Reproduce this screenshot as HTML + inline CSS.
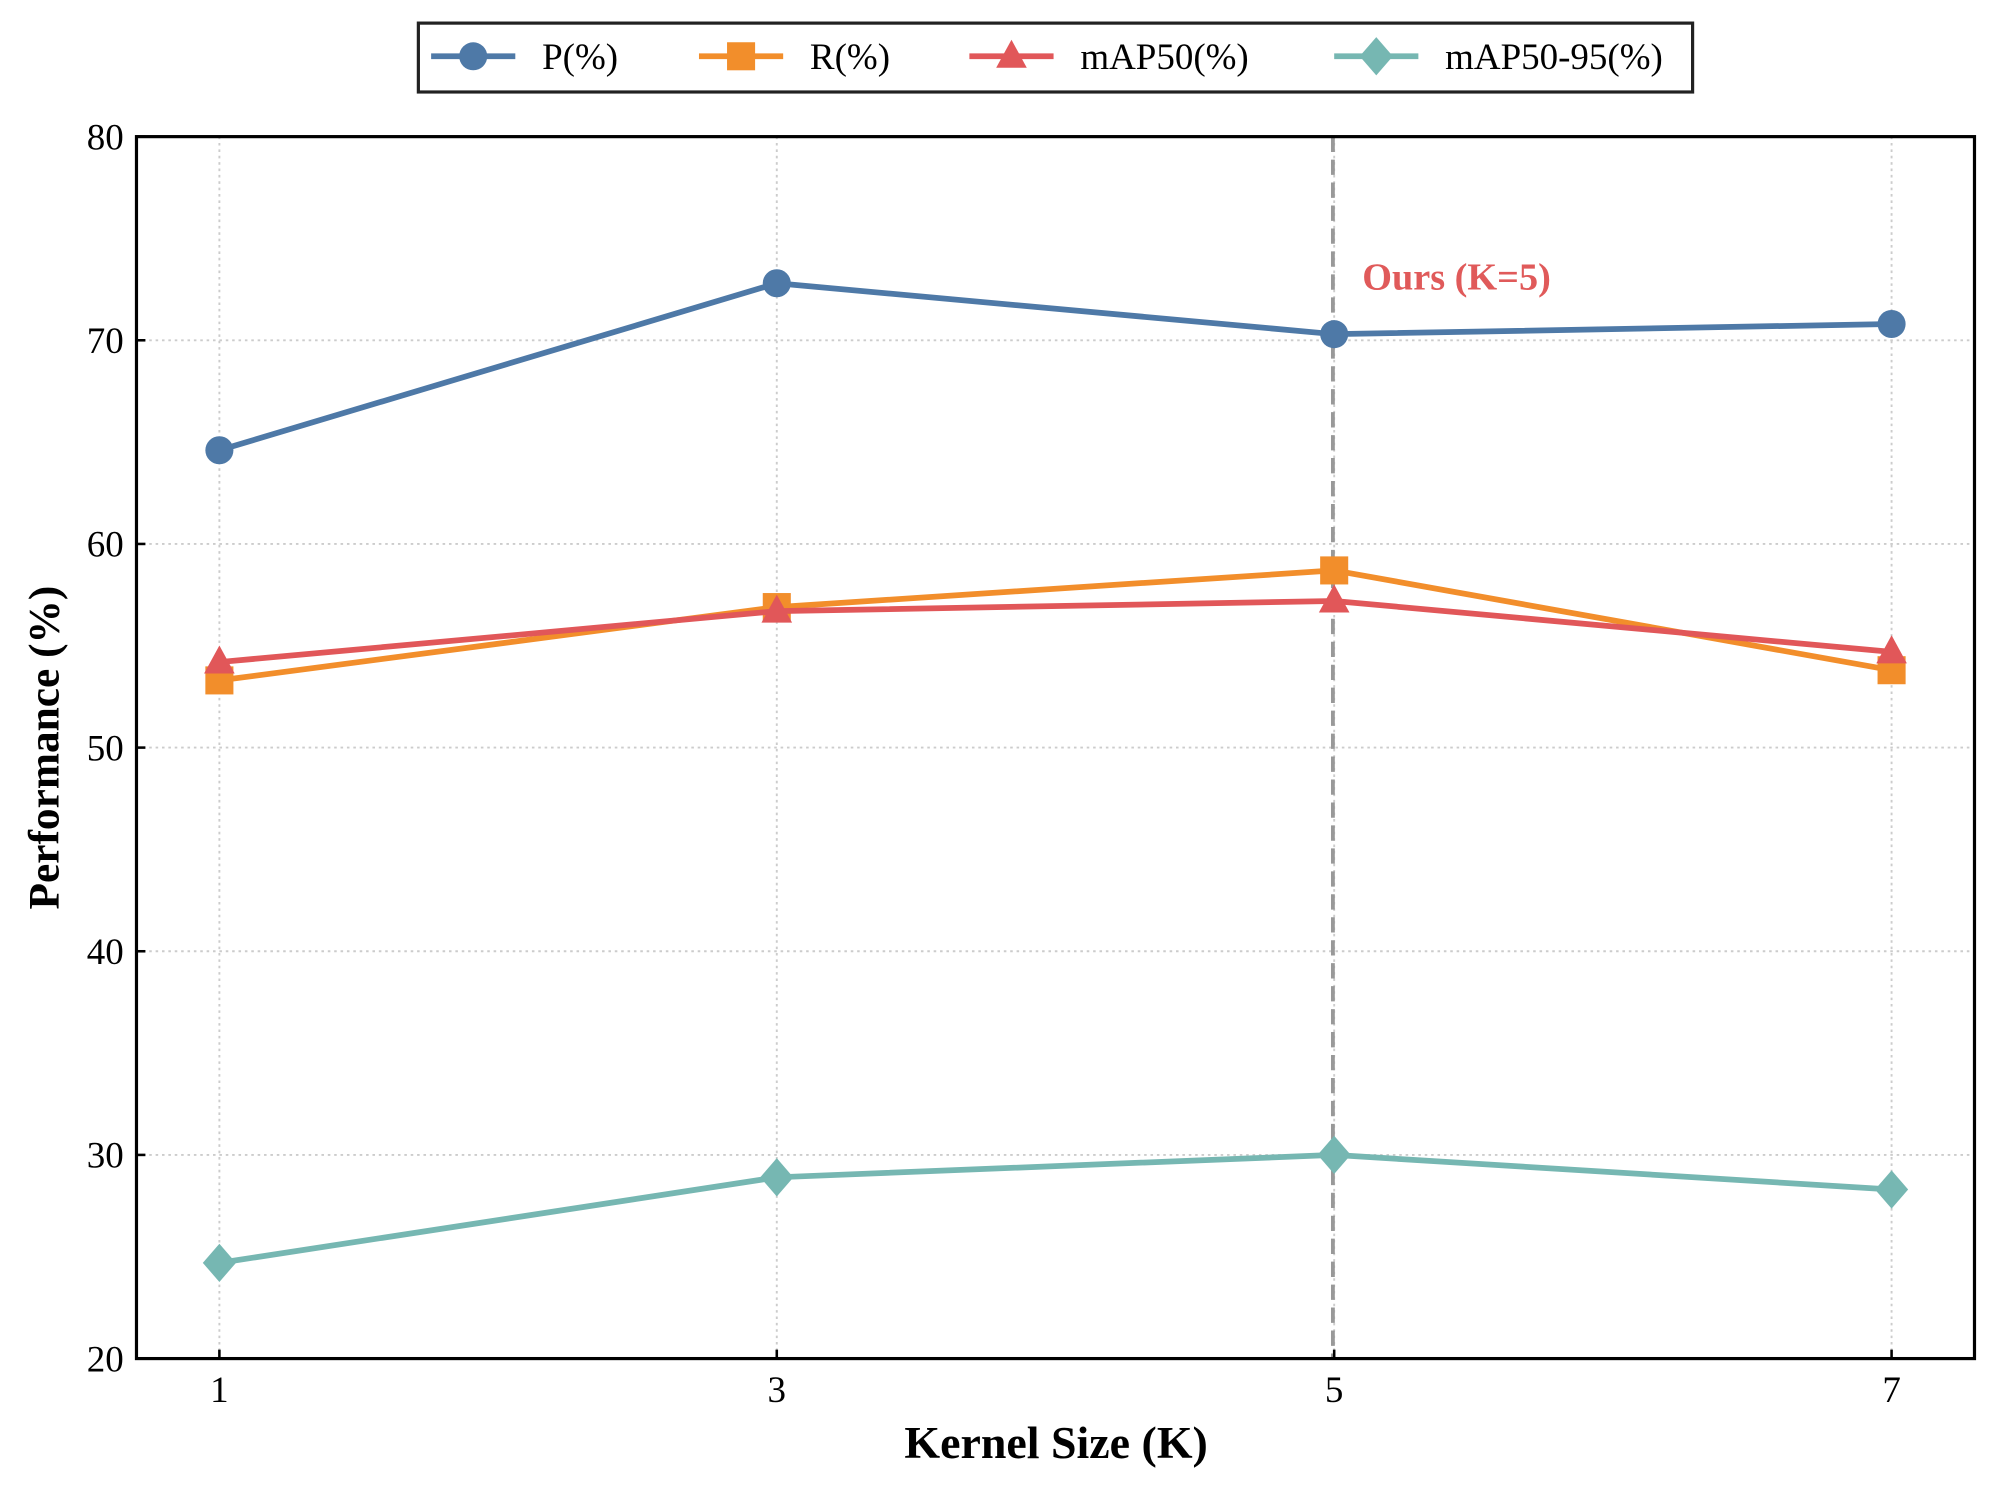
<!DOCTYPE html>
<html><head><meta charset="utf-8"><style>
html,body{margin:0;padding:0;background:#fff;}
svg{display:block;font-family:"Liberation Serif",serif;}
</style></head><body>
<svg id="chart" width="2000" height="1485" viewBox="0 0 1568 1164" xmlns="http://www.w3.org/2000/svg">
<g id="grid"></g>
<line x1="1045" y1="107" x2="1045" y2="1065" stroke="#999" stroke-width="3" stroke-dasharray="12,6"/>
<text x="1068" y="227" font-size="30" font-weight="bold" fill="#e05a5a">Ours (K=5)</text>
<g id="series"></g>
<rect x="107" y="107" width="1441" height="958" fill="none" stroke="#000" stroke-width="2.5"/>
<g id="ticks"></g>
<text x="828" y="1143" text-anchor="middle" font-size="36" font-weight="bold">Kernel Size (K)</text>
<text transform="translate(46,586) rotate(-90)" text-anchor="middle" font-size="34" font-weight="bold">Performance (%)</text>
<g>
<rect x="328" y="18" width="999" height="54" fill="#fff" stroke="#222" stroke-width="2.5"/>
<g id="legend"></g>
</g>
</svg>
<script>
const categories = [1, 3, 5, 7];
const seriesP = [64.6, 72.8, 70.3, 70.8];
const seriesR = [53.3, 56.9, 58.7, 53.8];
const seriesMAP50 = [54.2, 56.7, 57.2, 54.7];
const seriesMAP5095 = [24.7, 28.9, 30.0, 28.3];
const yTicks = [20, 30, 40, 50, 60, 70, 80];
const seriesNames = ["P(%)", "R(%)", "mAP50(%)", "mAP50-95(%)"];

const NS = "http://www.w3.org/2000/svg";
const L = 107, R = 1548, T = 107, B = 1065;
const xS = v => 172 + (v - 1) / 6 * (1483 - 172);
const yS = v => B - (v - 20) / 60 * (B - T);
function mk(tag, attrs, parent) { const e = document.createElementNS(NS, tag); for (const k in attrs) e.setAttribute(k, attrs[k]); parent.appendChild(e); return e; }
const grid = document.getElementById('grid'), ticks = document.getElementById('ticks'), ser = document.getElementById('series'), leg = document.getElementById('legend');

yTicks.forEach(t => {
  const y = yS(t);
  if (t > 20 && t < 80) { const g = mk('line', {x1: L, x2: R, y1: y, y2: y, stroke: '#ccc', 'stroke-width': 1.5, 'stroke-dasharray': '2,3'}, grid);
    
     }
  const tk = mk('line', {x1: L, x2: L + 7, y1: y, y2: y, stroke: '#000', 'stroke-width': 2}, ticks);
  
  
  const tx = mk('text', {x: L - 10, y: y + 10, 'text-anchor': 'end', 'font-size': 29}, ticks);
  tx.textContent = t;
  
  
});
categories.forEach(c => {
  const x = xS(c);
  const g = mk('line', {x1: x, x2: x, y1: T, y2: B, stroke: '#ccc', 'stroke-width': 1.5, 'stroke-dasharray': '2,3'}, grid);
  
  
  const tk = mk('line', {x1: x, x2: x, y1: B, y2: B - 7, stroke: '#000', 'stroke-width': 2}, ticks);
  
  
  const tx = mk('text', {x: x, y: B + 34, 'text-anchor': 'middle', 'font-size': 29}, ticks);
  tx.textContent = c;
  
  
});

function marker(kind, x, y, color, parent) {
  let e;
  if (kind === 'circle') e = mk('circle', {cx: x, cy: y, r: 11, fill: color}, parent);
  else if (kind === 'square') e = mk('rect', {x: x - 11, y: y - 11, width: 22, height: 22, fill: color}, parent);
  else if (kind === 'triangle') e = mk('polygon', {points: `${x},${y-13} ${x+12},${y+9} ${x-12},${y+9}`, fill: color}, parent);
  else e = mk('polygon', {points: `${x},${y-15} ${x+13},${y} ${x},${y+15} ${x-13},${y}`, fill: color}, parent);
  return e;
}
const defs = [
  {vals: seriesP, color: '#4e79a7', m: 'circle', name: 'p'},
  {vals: seriesR, color: '#f28e2b', m: 'square', name: 'r'},
  {vals: seriesMAP50, color: '#e15759', m: 'triangle', name: 'map50'},
  {vals: seriesMAP5095, color: '#76b7b2', m: 'diamond', name: 'map50-95'}
];
defs.forEach(d => {
  const g = mk('g', {}, ser);
  
  
  const pts = d.vals.map((v, i) => xS(categories[i]) + ',' + yS(v)).join(' ');
  const pl = mk('polyline', {points: pts, fill: 'none', stroke: d.color, 'stroke-width': 4.5, 'stroke-linejoin': 'round'}, g);
  
  
  d.vals.forEach((v, i) => {
    const m = marker(d.m, xS(categories[i]), yS(v), d.color, g);
    
    
  });
});
const legX = [338, 548, 760, 1046];
defs.forEach((d, i) => {
  const g = mk('g', {}, leg);
  
  
  const x = legX[i], y = 44;
  mk('line', {x1: x, x2: x + 66, y1: y, y2: y, stroke: d.color, 'stroke-width': 4.5}, g);
  marker(d.m, x + 33, y, d.color, g);
  const t = mk('text', {x: x + 87, y: y + 10, 'font-size': 29}, g);
  t.textContent = seriesNames[i];
});
</script>
</body></html>
